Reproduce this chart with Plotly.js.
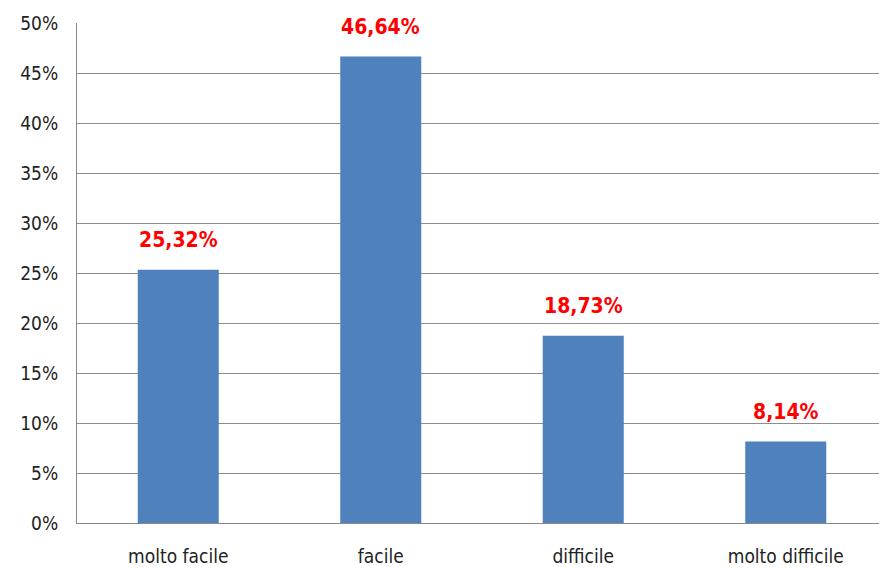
<!DOCTYPE html>
<html>
<head>
<meta charset="utf-8">
<script src="https://cdn.plot.ly/plotly-3.0.1.min.js"></script>
<style>
html,body{margin:0;padding:0;overflow:hidden;background:#fff;}
#chart{width:890px;height:569px;}
</style>
</head>
<body>
<div id="chart"></div>
<script>
const categories = ["molto facile", "facile", "difficile", "molto difficile"];
const values = [25.32, 46.64, 18.73, 8.14];
const valueLabels = ["25,32%", "46,64%", "18,73%", "8,14%"];
const yTicks = [0, 5, 10, 15, 20, 25, 30, 35, 40, 45, 50];
const yTickLabels = ["0%", "5%", "10%", "15%", "20%", "25%", "30%", "35%", "40%", "45%", "50%"];

const FONT = '"DejaVu Sans Condensed", "Liberation Sans Narrow", sans-serif';

const trace = {
  type: "bar",
  x: categories,
  y: values,
  marker: {color: "#4F81BD"},
  hoverinfo: "none"
};

const annotations = categories.map((c, i) => ({
  x: c, y: values[i], xref: "x", yref: "y",
  text: "<b>" + valueLabels[i] + "</b>",
  showarrow: false, yshift: 30, yanchor: "middle",
  font: {family: FONT, size: 21, color: "#FF0000"}
}));

const layout = {
  width: 890, height: 569,
  margin: {l: 77, r: 3, t: 23, b: 46},
  paper_bgcolor: "#fff", plot_bgcolor: "#fff",
  bargap: 0.6,
  showlegend: false,
  font: {family: FONT, size: 19, color: "#222"},
  xaxis: {
    type: "category",
    showline: true, linecolor: "#888", linewidth: 1,
    showgrid: false, ticks: "", ticklen: 0,
    ticklabelstandoff: 16,
    tickfont: {family: FONT, size: 19, color: "#222"}
  },
  yaxis: {
    range: [0, 50], tickvals: yTicks, ticktext: yTickLabels,
    showline: true, linecolor: "#888", linewidth: 1,
    showgrid: true, gridcolor: "#8c8c8c", gridwidth: 1,
    zeroline: false, ticks: "", ticklabelstandoff: 14,
    tickfont: {family: FONT, size: 19, color: "#222"}
  },
  annotations: annotations
};

Plotly.newPlot("chart", [trace], layout, {staticPlot: true, displayModeBar: false});
</script>
</body>
</html>
